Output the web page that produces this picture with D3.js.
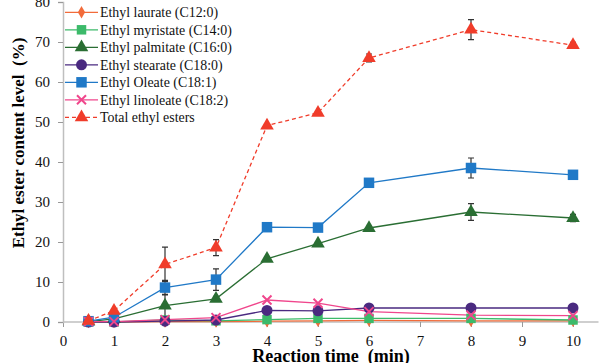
<!DOCTYPE html>
<html><head><meta charset="utf-8">
<script src="https://cdn.jsdelivr.net/npm/d3@7"></script>
<style>body{margin:0;background:#fff}svg{display:block}</style>
</head><body><svg id="c" width="600" height="363"></svg>
<script>
const times = [0.5, 1, 2, 3, 4, 5, 6, 8, 10];
const laurate   = [0, 0, 0.1, 0.1, 0.2, 0.3, 0.4, 0.3, 0.3];
const myristate = [0, 0, 0.5, 0.3, 0.6, 0.9, 0.9, 0.9, 0.5];
const palmitate = [0.1, 0.8, 4.1, 5.8, 15.8, 19.6, 23.5, 27.5, 26.0];
const stearate  = [0, 0, 0.2, 0.5, 2.9, 2.8, 3.5, 3.5, 3.5];
const oleate    = [0.2, 1.2, 8.6, 10.6, 23.7, 23.6, 34.8, 38.5, 36.8];
const linoleate = [0.1, 0.1, 0.6, 1.1, 5.5, 4.7, 2.6, 1.7, 1.6];
const total     = [0.3, 2.8, 14.4, 18.6, 49.1, 52.3, 66.0, 73.1, 69.2];
const totalErr  = [0, 0, 4.3, 2.0, 0.4, 0.3, 1.0, 2.5, 0.7];
const oleateErr = [0, 0, 1.8, 2.7, 0, 0, 0, 2.5, 0];
const palmErr   = [0, 0, 2.8, 0.6, 0, 0, 0, 2.1, 0.9];
const xTicks = [0,1,2,3,4,5,6,7,8,9,10];
const yTicks = [0,10,20,30,40,50,60,70,80];
const seriesNames = ["Ethyl laurate (C12:0)","Ethyl myristate (C14:0)","Ethyl palmitate (C16:0)","Ethyl stearate (C18:0)","Ethyl Oleate (C18:1)","Ethyl linoleate (C18:2)","Total ethyl esters"];

const series = [
  {name:seriesNames[0], v:laurate, color:"#f26b3a", sym:"diamond", size:45},
  {name:seriesNames[1], v:myristate, color:"#3cba6a", sym:"square", size:90},
  {name:seriesNames[2], v:palmitate, color:"#2a6e33", sym:"triangle", size:80, err:palmErr},
  {name:seriesNames[3], v:stearate, color:"#4a2a80", sym:"circle", size:95},
  {name:seriesNames[4], v:oleate, color:"#2079c7", sym:"square", size:110, err:oleateErr},
  {name:seriesNames[5], v:linoleate, color:"#f0468c", sym:"cross", size:70},
  {name:seriesNames[6], v:total, color:"#f03c2a", sym:"triangle", size:80, dash:"4,3", err:totalErr}
];

const FONT = '"Liberation Serif","Times New Roman",serif';
const svg = d3.select("#c");
const x = d3.scaleLinear().domain([0,10.5]).range([63,598.5]);
const y = d3.scaleLinear().domain([0,80]).range([322,2]);

const gx = svg.append("g").attr("transform","translate(0,322)")
  .call(d3.axisBottom(x).tickValues(xTicks).tickSize(5).tickPadding(8).tickFormat(d3.format("d")));
const gy = svg.append("g").attr("transform","translate(63,0)")
  .call(d3.axisLeft(y).tickValues(yTicks).tickSize(5).tickPadding(8));
[gx,gy].forEach(g=>{
  g.attr("font-family",FONT).attr("font-size",15);
  g.select(".domain").attr("stroke","#bfbfbf").attr("stroke-width",1.5);
  g.selectAll(".tick line").attr("stroke","#999");
  g.selectAll(".tick text").attr("fill","#111");
});
gx.select(".domain").attr("d","M63,0H598.5");

function symPath(s, size){
  const t = {diamond:d3.symbolDiamond, square:d3.symbolSquare, triangle:d3.symbolTriangle, circle:d3.symbolCircle}[s];
  return d3.symbol().type(t).size(size)();
}
function drawMarker(g, s, cx, cy){
  if (s.sym==="cross"){
    const r=4.5;
    g.append("path").attr("d",`M${cx-r},${cy-r}L${cx+r},${cy+r}M${cx-r},${cy+r}L${cx+r},${cy-r}`)
      .attr("stroke",s.color).attr("stroke-width",2);
  } else {
    g.append("path").attr("d",symPath(s.sym,s.size)).attr("transform",`translate(${cx},${cy})`).attr("fill",s.color);
  }
}

const line = d3.line().x((d,i)=>x(times[i])).y(d=>y(d));
const plot = svg.append("g");
series.forEach(s=>{
  plot.append("path").datum(s.v).attr("d",line).attr("fill","none")
    .attr("stroke",s.color).attr("stroke-width",1.3).attr("stroke-dasharray",s.dash||null);
});
series.forEach(s=>{
  if(!s.err) return;
  s.v.forEach((v,i)=>{
    const e=s.err[i]; if(!e) return;
    const cx=x(times[i]), y1=y(v+e), y2=y(v-e);
    plot.append("path").attr("d",`M${cx},${y1}V${y2}M${cx-3},${y1}H${cx+3}M${cx-3},${y2}H${cx+3}`)
      .attr("stroke","#333").attr("stroke-width",1.2).attr("fill","none");
  });
});
series.forEach(s=>{
  const g=plot.append("g");
  s.v.forEach((v,i)=>drawMarker(g,s,x(times[i]),y(v)));
});

const lg = svg.append("g");
series.forEach((s,i)=>{
  const yy = 12.3 + i*17.5;
  lg.append("line").attr("x1",65).attr("x2",98).attr("y1",yy).attr("y2",yy)
    .attr("stroke",s.color).attr("stroke-width",1.3).attr("stroke-dasharray",s.dash||null);
  drawMarker(lg,s,81.5,yy);
  lg.append("text").attr("x",100).attr("y",yy+4.8).text(s.name)
    .attr("font-family",FONT).attr("font-size",13.9).attr("fill","#111");
});

svg.append("text").attr("x",331).attr("y",361.5).attr("text-anchor","middle")
  .attr("font-family",FONT).attr("font-size",18).attr("font-weight","bold")
  .attr("xml:space","preserve").style("white-space","pre").text("Reaction time  (min)");
svg.append("text").attr("transform","translate(24,143) rotate(-90)").attr("text-anchor","middle")
  .attr("font-family",FONT).attr("font-size",17).attr("font-weight","bold")
  .attr("xml:space","preserve").style("white-space","pre").text("Ethyl ester content level  (%)");
</script></body></html>
